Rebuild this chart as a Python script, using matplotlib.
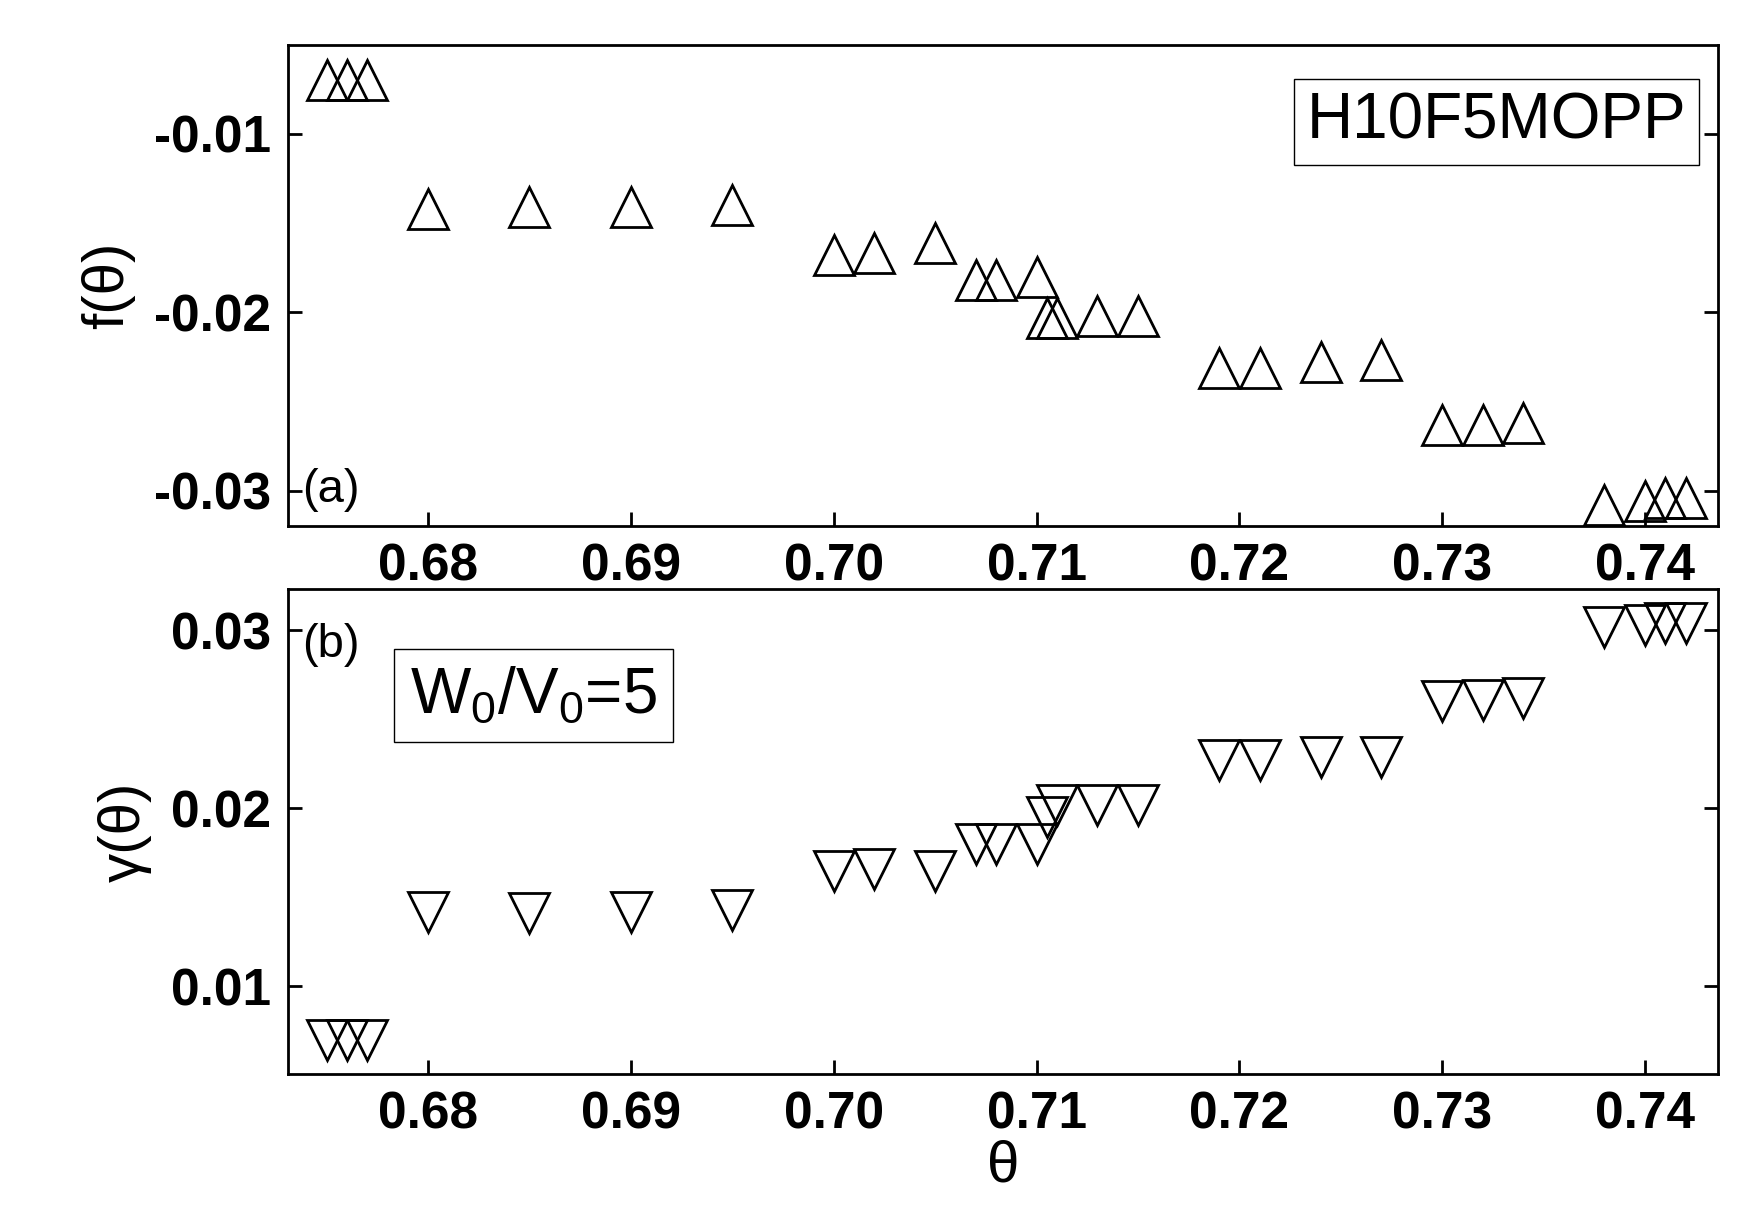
import matplotlib
matplotlib.use('Agg')
import matplotlib.pyplot as plt

theta = [0.675, 0.676, 0.677, 0.680, 0.685, 0.690, 0.695, 0.700, 0.702, 0.705,
         0.707, 0.708, 0.710, 0.7105, 0.711, 0.713, 0.715, 0.719, 0.721, 0.724,
         0.727, 0.730, 0.732, 0.734, 0.738, 0.740, 0.741, 0.742]
f_vals = [-0.0070, -0.0070, -0.0070, -0.0142, -0.0141, -0.0141, -0.0140, -0.0168, -0.0167, -0.0161,
          -0.0182, -0.0182, -0.0180, -0.0203, -0.0203, -0.0202, -0.0202, -0.0231, -0.0231, -0.0228,
          -0.0227, -0.0263, -0.0263, -0.0262, -0.0308, -0.0306, -0.0304, -0.0304]
g_vals = [0.0070, 0.0070, 0.0070, 0.0142, 0.0141, 0.0142, 0.0143, 0.0165, 0.0166, 0.0165,
          0.0180, 0.0180, 0.0180, 0.0195, 0.0202, 0.0202, 0.0202, 0.0227, 0.0227, 0.0229,
          0.0229, 0.0260, 0.0261, 0.0262, 0.0302, 0.0303, 0.0304, 0.0304]
xticks = [0.68, 0.69, 0.70, 0.71, 0.72, 0.73, 0.74]
xticklabels = ['0.68', '0.69', '0.70', '0.71', '0.72', '0.73', '0.74']

plt.rcParams['font.family'] = ['Liberation Sans', 'DejaVu Sans']
plt.rcParams['font.weight'] = 'bold'
plt.rcParams['mathtext.default'] = 'regular'
fig = plt.figure(figsize=(17.46, 12.11), dpi=100)
ax1 = fig.add_axes([0.165, 0.566, 0.819, 0.397])
ax2 = fig.add_axes([0.165, 0.113, 0.819, 0.401])

for ax in (ax1, ax2):
    ax.set_xlim(0.6731, 0.7436)
    ax.set_xticks(xticks)
    ax.set_xticklabels(xticklabels)
    ax.tick_params(direction='in', length=10, width=2, labelsize=37, right=True, pad=12)
    for s in ax.spines.values():
        s.set_linewidth(2)

ax1.plot(theta, f_vals, linestyle='none', marker='^', ms=29, mfc='none', mec='black', mew=2)
ax2.plot(theta, g_vals, linestyle='none', marker='v', ms=29, mfc='none', mec='black', mew=2)
ax1.set_ylim(-0.03196, -0.0050)
ax1.set_yticks([-0.03, -0.02, -0.01])
ax1.set_yticklabels(['-0.03', '-0.02', '-0.01'])
ax2.set_ylim(0.00508, 0.03233)
ax2.set_yticks([0.01, 0.02, 0.03])
ax2.set_yticklabels(['0.01', '0.02', '0.03'])

ax1.set_ylabel('f(θ)', fontsize=42, labelpad=14)
ax2.set_ylabel('γ(θ)', fontsize=42, fontweight='normal', labelpad=14)
ax2.set_xlabel('θ', fontsize=42, fontweight='normal', labelpad=0)

ax1.text(0.010, 0.05, '(a)', transform=ax1.transAxes, fontsize=34, fontweight='normal')
ax2.text(0.010, 0.86, '(b)', transform=ax2.transAxes, fontsize=34, fontweight='normal')
ax1.text(0.978, 0.84, 'H10F5MOPP', transform=ax1.transAxes, fontsize=46, fontweight='normal',
         ha='right', va='center', bbox=dict(boxstyle='square,pad=0.2', fc='white', ec='black', lw=1))
ax2.text(0.085, 0.78, r'W$_0$/V$_0$=5', transform=ax2.transAxes, fontsize=46, fontweight='normal',
         ha='left', va='center', bbox=dict(boxstyle='square,pad=0.25', fc='white', ec='black', lw=1))

fig.savefig('out.png', dpi=100)
